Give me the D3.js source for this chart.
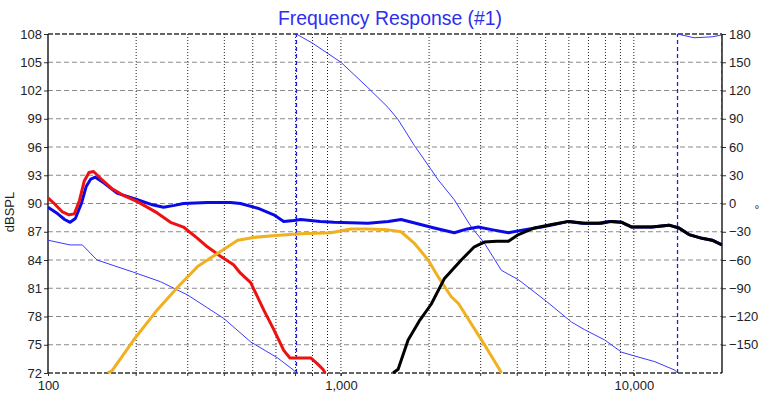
<!DOCTYPE html>
<html><head><meta charset="utf-8">
<script src="https://cdn.jsdelivr.net/npm/d3@7"></script>
<style>html,body{margin:0;padding:0;background:#fff;}svg{display:block;font-family:"Liberation Sans",Arial,sans-serif;}</style>
</head><body><svg id="c" width="761" height="395"></svg>
<script>
const title = "Frequency Response (#1)";
const yLeftLabel = "dBSPL";
const yRightLabel = "°";
const dbTicks = [72,75,78,81,84,87,90,93,96,99,102,105,108];
const degTicks = [-150,-120,-90,-60,-30,0,30,60,90,120,150,180];
const freqLabels = [[100,"100"],[1000,"1,000"],[10000,"10,000"]];
const freqGrid = [200,300,400,500,600,700,800,900,1000,2000,3000,4000,5000,6000,7000,8000,9000,10000];

const blueFreq = [100,108,114,119,124,130,135,140,145,155,172,202,225,248,270,290,350,420,454,520,590,638,690,729,850,946,1237,1450,1605,1800,2083,2438,2700,2945,3300,3733,4200,4842,5400,5989,6637,7590,8210,9097,9844,11520,13180,14260,15430,17100,18500,20000];
const blueDb   = [89.6,88.9,88.3,88.0,88.4,90.0,91.8,92.6,92.8,92.2,91.1,90.4,89.9,89.6,89.8,90.0,90.1,90.1,90.0,89.5,88.8,88.1,88.2,88.3,88.1,88.0,87.9,88.1,88.3,87.9,87.4,86.9,87.3,87.5,87.2,86.9,87.2,87.5,87.8,88.1,87.9,87.9,88.1,88.0,87.5,87.5,87.7,87.4,86.7,86.3,86.1,85.6];

const redFreq = [100,105,112,118,123,128,133,138,143,152,165,180,202,236,262,290,324,350,388,430,454,492,545,590,638,670,690,789,830,868,885];
const redDb   = [90.6,90.0,89.1,88.8,88.9,90.3,92.4,93.3,93.4,92.6,91.6,90.9,90.2,89.0,88.0,87.5,86.3,85.4,84.4,83.5,82.6,81.6,78.7,76.6,74.4,73.6,73.6,73.6,73.0,72.4,72.0];

const orangeFreq = [160,166,196,236,277,324,379,444,504,600,729,924,1082,1237,1450,1605,1778,1986,2149,2381,2516,3064,3476,3532];
const orangeDb   = [72.0,72.3,75.5,78.7,81.1,83.3,84.7,86.1,86.4,86.6,86.8,86.9,87.3,87.3,87.2,87.0,85.8,84.0,82.2,80.1,79.4,75.2,72.4,72.0];

const blackFreq = [1507,1568,1696,1850,2033,2253,2576,2854,3088,3400,3733,4038,4581,5300,5989,6795,7770,8410,9097,9844,11520,13180,14260,15430,17100,18500,20000];
const blackDb   = [72.0,72.4,75.5,77.5,79.3,82.0,84.0,85.4,85.9,86.0,86.0,86.7,87.4,87.8,88.1,87.9,87.9,88.1,88.0,87.5,87.5,87.7,87.4,86.7,86.3,86.1,85.6];

const phaseFreq = [100,119,131,147,196,242,299,398,492,608,690,705, 705,802,1000,1237,1449,1568,1778,2033,2149,2438,2787,3088,3532,4038,5035,6133,6795,7960,9097,10080,11800,13820,14100, 14100,16050,18500,20000, 20000];
const phaseDeg  = [-39,-44,-44,-60,-73,-83,-97,-122,-147,-164,-177,-180, 180,170,150,123,102,89,62,36,25,4,-25,-42,-71,-81,-104,-126,-134,-145,-158,-162,-168,-177,-180, 180,176,177,179, 90];

const L = 48, R = 722, T = 34, B = 373;
const x = d3.scaleLog().domain([100,20000]).range([L,R]);
const yL = d3.scaleLinear().domain([72,108]).range([B,T]);
const yR = d3.scaleLinear().domain([-180,180]).range([B,T]);

const svg = d3.select("#c");
svg.append("defs").append("clipPath").attr("id","clip")
  .append("rect").attr("x",L).attr("y",T-2).attr("width",R-L).attr("height",B-T+4);

// grid
const g = svg.append("g");
g.selectAll("line.v").data(freqGrid).join("line")
  .attr("x1",d=>x(d)).attr("x2",d=>x(d)).attr("y1",T).attr("y2",B+3)
  .attr("stroke","#222").attr("stroke-width",1).attr("stroke-dasharray","1,2");
g.selectAll("line.h").data(dbTicks.filter(d=>d>72&&d<108)).join("line")
  .attr("x1",L).attr("x2",R).attr("y1",d=>yL(d)).attr("y2",d=>yL(d))
  .attr("stroke","#8a8a8a").attr("stroke-width",1).attr("stroke-dasharray","5,3");
[108,72].forEach(v=>{
  g.append("line").attr("x1",L).attr("x2",R).attr("y1",yL(v)).attr("y2",yL(v))
   .attr("stroke","#333").attr("stroke-width",1.3).attr("stroke-dasharray","5,2");
});

// axes
const axL = d3.axisLeft(yL).tickValues(dbTicks).tickSize(4).tickPadding(2);
const axR = d3.axisRight(yR).tickValues(degTicks).tickSize(4).tickPadding(3);
const axB = d3.axisBottom(x).tickValues(freqLabels.map(d=>d[0])).tickFormat((d,i)=>freqLabels[i][1]).tickSize(3).tickPadding(5);
function style(sel){
  sel.select(".domain").remove();
  sel.selectAll("text").attr("font-size","13px").attr("fill","#222").attr("font-family","Liberation Sans, Arial, sans-serif");
  sel.selectAll("line").attr("stroke","#333");
}
svg.append("g").attr("transform",`translate(${L},0)`).call(axL).call(style);
svg.append("g").attr("transform",`translate(${R},0)`).call(axR).call(style);
svg.append("g").attr("transform",`translate(0,${B})`).call(axB).call(style);
svg.append("g").attr("transform",`translate(0,${B})`).selectAll("line").data(freqGrid).join("line")
  .attr("x1",d=>x(d)).attr("x2",d=>x(d)).attr("y1",0).attr("y2",3).attr("stroke","#333");
svg.append("line").attr("x1",L).attr("x2",L).attr("y1",T).attr("y2",B).attr("stroke","#000").attr("stroke-width",1.3);
svg.append("line").attr("x1",R).attr("x2",R).attr("y1",T).attr("y2",B).attr("stroke","#000").attr("stroke-width",1.3);

// curves
const plot = svg.append("g").attr("clip-path","url(#clip)");
// phase
for(let i=1;i<phaseFreq.length;i++){
  const dashed = phaseFreq[i]===phaseFreq[i-1];
  plot.append("line")
    .attr("x1",x(phaseFreq[i-1])).attr("y1",yR(phaseDeg[i-1]))
    .attr("x2",x(phaseFreq[i])).attr("y2",yR(phaseDeg[i]))
    .attr("stroke", dashed ? "#2222cc" : "#3a3aff")
    .attr("stroke-width", dashed ? 1.3 : 1)
    .attr("stroke-dasharray", dashed ? "4,3" : null);
}
function curve(fs, vs, color){
  const line = d3.line().x(d=>x(d[0])).y(d=>yL(d[1]));
  plot.append("path").datum(fs.map((f,i)=>[f,vs[i]])).attr("d",line)
    .attr("fill","none").attr("stroke",color).attr("stroke-width",3).attr("stroke-linejoin","round");
}
curve(blueFreq, blueDb, "#0a0ae6");
curve(redFreq, redDb, "#ee1111");
curve(orangeFreq, orangeDb, "#f0b020");
curve(blackFreq, blackDb, "#000000");

// title and labels
svg.append("text").attr("x",390).attr("y",25).attr("text-anchor","middle")
  .attr("font-size","20px").attr("fill","#2e2ef0").attr("textLength",224).attr("lengthAdjust","spacingAndGlyphs").text(title);
svg.append("text").attr("transform","translate(14,212) rotate(-90)").attr("text-anchor","middle")
  .attr("font-size","13px").attr("fill","#222").text(yLeftLabel);
svg.append("text").attr("x",757).attr("y",214).attr("text-anchor","middle")
  .attr("font-size","12px").attr("fill","#222").text(yRightLabel);
</script></body></html>
